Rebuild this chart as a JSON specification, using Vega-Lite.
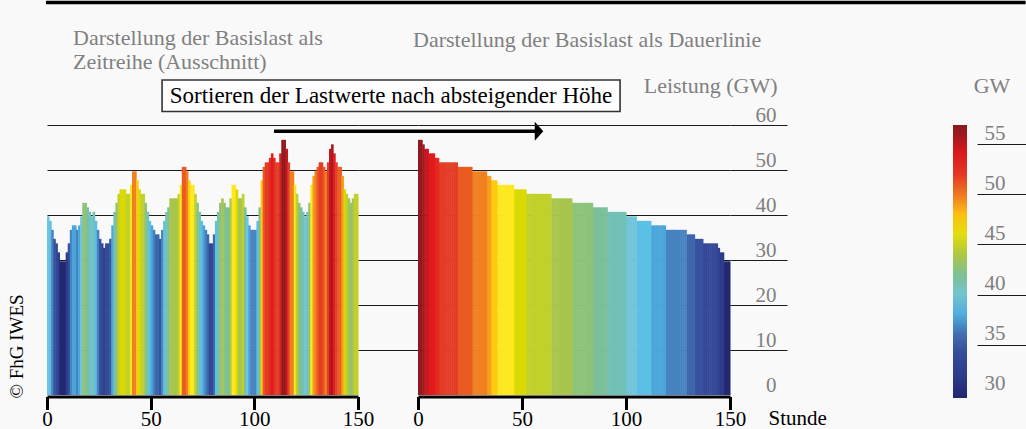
{
  "$schema": "https://vega.github.io/schema/vega-lite/v6.json",
  "background": "#f9f9f9",
  "padding": {"left": 7, "top": 0, "right": 0, "bottom": 0},
  "autosize": {"type": "pad"},
  "config": {
    "view": {"stroke": null},
    "font": "Liberation Serif",
    "axis": {"labelFont": "Liberation Serif", "titleFont": "Liberation Serif", "titleFontWeight": "normal"},
    "text": {"font": "Liberation Serif"}
  },
  "datasets": {
    "last": [
      {"stunde":0,"gw":39.7},{"stunde":1,"gw":38.7},{"stunde":2,"gw":36.7},{"stunde":3,"gw":34.7},{"stunde":4,"gw":33.7},
      {"stunde":5,"gw":31.7},{"stunde":6,"gw":29.7},{"stunde":7,"gw":29.7},{"stunde":8,"gw":29.7},{"stunde":9,"gw":31.7},
      {"stunde":10,"gw":33.7},{"stunde":11,"gw":36.7},{"stunde":12,"gw":37.7},{"stunde":13,"gw":37.7},{"stunde":14,"gw":36.7},
      {"stunde":15,"gw":37.7},{"stunde":16,"gw":39.7},{"stunde":17,"gw":42.7},{"stunde":18,"gw":42.7},{"stunde":19,"gw":41.7},
      {"stunde":20,"gw":40.7},{"stunde":21,"gw":39.7},{"stunde":22,"gw":40.7},{"stunde":23,"gw":38.7},{"stunde":24,"gw":36.7},
      {"stunde":25,"gw":34.7},{"stunde":26,"gw":33.7},{"stunde":27,"gw":32.7},{"stunde":28,"gw":33.7},{"stunde":29,"gw":33.7},
      {"stunde":30,"gw":34.7},{"stunde":31,"gw":37.7},{"stunde":32,"gw":40.7},{"stunde":33,"gw":42.7},{"stunde":34,"gw":44.7},
      {"stunde":35,"gw":45.7},{"stunde":36,"gw":45.7},{"stunde":37,"gw":45.7},{"stunde":38,"gw":44.7},{"stunde":39,"gw":44.7},
      {"stunde":40,"gw":46.7},{"stunde":41,"gw":49.7},{"stunde":42,"gw":49.7},{"stunde":43,"gw":47.7},{"stunde":44,"gw":45.7},
      {"stunde":45,"gw":44.7},{"stunde":46,"gw":44.7},{"stunde":47,"gw":42.7},{"stunde":48,"gw":40.7},{"stunde":49,"gw":38.7},
      {"stunde":50,"gw":37.7},{"stunde":51,"gw":36.7},{"stunde":52,"gw":35.7},{"stunde":53,"gw":35.7},{"stunde":54,"gw":34.7},
      {"stunde":55,"gw":36.7},{"stunde":56,"gw":38.7},{"stunde":57,"gw":40.7},{"stunde":58,"gw":41.7},{"stunde":59,"gw":43.7},
      {"stunde":60,"gw":43.7},{"stunde":61,"gw":43.7},{"stunde":62,"gw":43.7},{"stunde":63,"gw":44.7},{"stunde":64,"gw":46.7},
      {"stunde":65,"gw":50.7},{"stunde":66,"gw":50.7},{"stunde":67,"gw":49.7},{"stunde":68,"gw":47.7},{"stunde":69,"gw":46.7},
      {"stunde":70,"gw":46.7},{"stunde":71,"gw":44.7},{"stunde":72,"gw":42.7},{"stunde":73,"gw":40.7},{"stunde":74,"gw":38.7},
      {"stunde":75,"gw":37.7},{"stunde":76,"gw":36.7},{"stunde":77,"gw":35.7},{"stunde":78,"gw":33.7},{"stunde":79,"gw":33.7},
      {"stunde":80,"gw":35.7},{"stunde":81,"gw":38.7},{"stunde":82,"gw":40.7},{"stunde":83,"gw":42.7},{"stunde":84,"gw":43.7},
      {"stunde":85,"gw":42.7},{"stunde":86,"gw":41.7},{"stunde":87,"gw":41.7},{"stunde":88,"gw":43.7},{"stunde":89,"gw":46.7},
      {"stunde":90,"gw":46.7},{"stunde":91,"gw":45.7},{"stunde":92,"gw":43.7},{"stunde":93,"gw":43.7},{"stunde":94,"gw":44.7},
      {"stunde":95,"gw":41.7},{"stunde":96,"gw":39.7},{"stunde":97,"gw":37.7},{"stunde":98,"gw":36.7},{"stunde":99,"gw":36.7},
      {"stunde":100,"gw":36.7},{"stunde":101,"gw":38.7},{"stunde":102,"gw":41.7},{"stunde":103,"gw":47.7},{"stunde":104,"gw":50.7},
      {"stunde":105,"gw":51.7},{"stunde":106,"gw":51.7},{"stunde":107,"gw":52.7},{"stunde":108,"gw":53.7},{"stunde":109,"gw":52.7},
      {"stunde":110,"gw":51.7},{"stunde":111,"gw":51.7},{"stunde":112,"gw":53.7},{"stunde":113,"gw":56.7},{"stunde":114,"gw":56.7},
      {"stunde":115,"gw":54.7},{"stunde":116,"gw":51.7},{"stunde":117,"gw":49.7},{"stunde":118,"gw":49.7},{"stunde":119,"gw":46.7},
      {"stunde":120,"gw":44.7},{"stunde":121,"gw":42.7},{"stunde":122,"gw":41.7},{"stunde":123,"gw":40.7},{"stunde":124,"gw":39.7},
      {"stunde":125,"gw":40.7},{"stunde":126,"gw":42.7},{"stunde":127,"gw":46.7},{"stunde":128,"gw":48.7},{"stunde":129,"gw":49.7},
      {"stunde":130,"gw":50.7},{"stunde":131,"gw":51.7},{"stunde":132,"gw":51.7},{"stunde":133,"gw":50.7},{"stunde":134,"gw":49.7},
      {"stunde":135,"gw":51.7},{"stunde":136,"gw":54.7},{"stunde":137,"gw":55.7},{"stunde":138,"gw":53.7},{"stunde":139,"gw":51.7},
      {"stunde":140,"gw":50.7},{"stunde":141,"gw":50.7},{"stunde":142,"gw":48.7},{"stunde":143,"gw":45.7},{"stunde":144,"gw":44.7},
      {"stunde":145,"gw":43.7},{"stunde":146,"gw":42.7},{"stunde":147,"gw":43.7},{"stunde":148,"gw":44.7},{"stunde":149,"gw":44.7}
    ]
  },
  "data": {"name": "last"},
  "bounds": "flush",
  "spacing": 60,
  "resolve": {"scale": {"x": "independent", "y": "independent", "color": "shared"}},
  "hconcat": [
    {
      "width": 311,
      "height": 270,
      "title": {
        "text": ["Darstellung der Basislast als", "Zeitreihe (Ausschnitt)"],
        "anchor": "start", "frame": "group", "dx": 26, "offset": -73.4,
        "font": "Liberation Serif", "fontSize": 22, "fontWeight": "normal",
        "color": "#808080", "lineHeight": 24
      },
      "layer": [
        {
          "data": {"values": [{}]},
          "mark": {"type": "rect", "color": "black"},
          "encoding": {
            "x": {"datum": -0.5, "type": "quantitative", "scale": {"domain": [0, 150], "nice": false, "padding": 0}},
            "x2": {"datum": 472},
            "y": {"datum": 87.62, "type": "quantitative", "scale": {"domain": [0, 60], "nice": false, "padding": 0}},
            "y2": {"datum": 86.84}
          }
        },
        {
          "mark": {"type": "bar", "orient": "vertical", "width": 2.6, "xOffset": 1.3},
          "encoding": {
            "x": {
              "field": "stunde", "type": "quantitative",
              "scale": {"domain": [0, 150], "nice": false, "padding": 0},
              "axis": {
                "orient": "bottom", "values": [0, 50, 100, 150], "title": null, "grid": false,
                "offset": 1.5, "domainColor": "black", "domainWidth": 3,
                "tickColor": "black", "tickWidth": 3, "tickSize": 13,
                "labelFontSize": 21, "labelColor": "black", "labelPadding": -1,
                "labelFlush": false, "labelOverlap": false
              }
            },
            "y": {
              "field": "gw", "type": "quantitative",
              "scale": {"domain": [0, 60], "nice": false, "padding": 0},
              "axis": {
                "orient": "right", "values": [0, 10, 20, 30, 40, 50, 60],
                "grid": true,
                "gridColor": {"condition": {"test": "datum.value === 0", "value": "transparent"}, "value": "#1a1a1a"},
                "gridWidth": 1.2,
                "ticks": true, "tickSize": 60, "tickWidth": 1.2,
                "tickColor": {"condition": {"test": "datum.value === 0", "value": "transparent"}, "value": "#1a1a1a"},
                "labels": false, "domain": false,
                "title": "© FhG IWES", "titleAngle": 270, "titleX": -342, "titleY": 273,
                "titleAlign": "left", "titleBaseline": "middle",
                "titleFontSize": 19, "titleColor": "black", "titleFontWeight": "normal"
              }
            },
            "order": {"field": "stunde", "type": "quantitative", "sort": "ascending"},
            "color": {
              "field": "gw", "type": "quantitative",
              "scale": {
                "domain": [29.6,30.7,31.7,32.7,33.7,34.7,35.7,36.7,37.7,38.7,39.7,40.7,41.7,42.7,43.7,44.7,45.7,46.7,47.7,48.7,49.7,50.7,51.7,52.7,53.7,54.7,55.7,56.9],
                "range": ["#222670","#283180","#2d3b8c","#30418f","#334896","#37529f","#3d66ab","#4783c0","#4aa6da","#5bc0e5","#71c5da","#72c1b6","#79bf99","#8dc379","#a8c54c","#c1d02b","#dbd902","#fce81f","#fecb0f","#f5a01a","#f0801f","#ea5b22","#e43c26","#e32a20","#e31a1c","#c8141e","#a8161f","#851a1d"],
                "interpolate": "rgb"
              },
              "legend": {
                "orient": "none", "legendX": 906, "legendY": 0, "direction": "vertical",
                "title": null, "gradientLength": 273, "gradientThickness": 14,
                "gradientStrokeWidth": 0, "labelOpacity": 0, "padding": 0
              }
            }
          }
        },
        {
          "data": {"values": [{}]},
          "mark": {"type": "rect", "fill": "#fdfdfd", "stroke": "#333333", "strokeWidth": 1.6},
          "encoding": {
            "x": {"datum": 55.5, "type": "quantitative", "scale": {"domain": [0, 150], "nice": false, "padding": 0}},
            "x2": {"datum": 276.4},
            "y": {"datum": 70.0, "type": "quantitative", "scale": {"domain": [0, 60], "nice": false, "padding": 0}},
            "y2": {"datum": 63.0}
          }
        },
        {
          "data": {"values": [{}]},
          "mark": {"type": "text", "text": "Sortieren der Lastwerte nach absteigender Höhe", "font": "Liberation Serif", "fontSize": 23, "color": "black", "align": "center", "baseline": "middle"},
          "encoding": {
            "x": {"datum": 165.9, "type": "quantitative", "scale": {"domain": [0, 150], "nice": false, "padding": 0}},
            "y": {"datum": 66.4, "type": "quantitative", "scale": {"domain": [0, 60], "nice": false, "padding": 0}}
          }
        },
        {
          "data": {"values": [{}]},
          "mark": {"type": "rule", "color": "black", "strokeWidth": 3.5},
          "encoding": {
            "x": {"datum": 109.5, "type": "quantitative", "scale": {"domain": [0, 150], "nice": false, "padding": 0}},
            "x2": {"datum": 235.4},
            "y": {"datum": 58.62, "type": "quantitative", "scale": {"domain": [0, 60], "nice": false, "padding": 0}}
          }
        },
        {
          "data": {"values": [{}]},
          "mark": {"type": "point", "shape": "M -0.45,-1 L 0.45,0 L -0.45,1 Z", "filled": true, "color": "black", "opacity": 1, "size": 361},
          "encoding": {
            "x": {"datum": 237.3, "type": "quantitative", "scale": {"domain": [0, 150], "nice": false, "padding": 0}},
            "y": {"datum": 58.62, "type": "quantitative", "scale": {"domain": [0, 60], "nice": false, "padding": 0}}
          }
        }
      ]
    },
    {
      "width": 312,
      "height": 270,
      "title": {
        "text": "Darstellung der Basislast als Dauerlinie",
        "anchor": "start", "frame": "group", "dx": -5, "offset": 21.6,
        "font": "Liberation Serif", "fontSize": 22, "fontWeight": "normal",
        "color": "#808080"
      },
      "transform": [
        {
          "window": [{"op": "row_number", "as": "rang"}],
          "sort": [{"field": "gw", "order": "descending"}]
        }
      ],
      "mark": {"type": "bar", "orient": "vertical", "width": 2.6, "xOffset": -0.78},
      "encoding": {
        "x": {
          "field": "rang", "type": "quantitative",
          "scale": {"domain": [0, 150], "nice": false, "padding": 0},
          "axis": {
            "orient": "bottom", "values": [0, 50, 100, 150], "grid": false,
            "offset": 1.5, "domainColor": "black", "domainWidth": 3,
            "tickColor": "black", "tickWidth": 3, "tickSize": 13,
            "labelFontSize": 21, "labelColor": "black", "labelPadding": -1,
            "labelFlush": false, "labelOverlap": false,
            "title": "Stunde", "titleX": 350, "titleY": 28, "titleAlign": "left",
            "titleBaseline": "alphabetic", "titleFontSize": 21, "titleColor": "black", "titleFontWeight": "normal"
          }
        },
        "y": {
          "field": "gw", "type": "quantitative",
          "scale": {"domain": [0, 60], "nice": false, "padding": 0},
          "axis": {
            "orient": "right", "values": [0, 10, 20, 30, 40, 50, 60],
            "grid": true,
            "gridColor": {"condition": {"test": "datum.value === 0", "value": "transparent"}, "value": "#1a1a1a"},
            "gridWidth": 1.2,
            "ticks": true, "tickSize": 57, "tickWidth": 1.2,
            "tickColor": {"condition": {"test": "datum.value === 0", "value": "transparent"}, "value": "#1a1a1a"},
            "domain": false,
            "labelAlign": "right", "labelPadding": -11, "labelBaseline": "alphabetic", "labelOffset": -4,
            "labelColor": "#808080", "labelFontSize": 21,
            "title": "Leistung (GW)", "titleAngle": 0, "titleAlign": "right", "titleBaseline": "alphabetic",
            "titleX": 47, "titleY": -33, "titleColor": "#808080", "titleFontSize": 22, "titleFontWeight": "normal"
          }
        },
        "order": {"field": "rang", "type": "quantitative", "sort": "ascending"},
        "color": {
          "field": "gw", "type": "quantitative",
          "scale": {
            "domain": [29.6,30.7,31.7,32.7,33.7,34.7,35.7,36.7,37.7,38.7,39.7,40.7,41.7,42.7,43.7,44.7,45.7,46.7,47.7,48.7,49.7,50.7,51.7,52.7,53.7,54.7,55.7,56.9],
            "range": ["#222670","#283180","#2d3b8c","#30418f","#334896","#37529f","#3d66ab","#4783c0","#4aa6da","#5bc0e5","#71c5da","#72c1b6","#79bf99","#8dc379","#a8c54c","#c1d02b","#dbd902","#fce81f","#fecb0f","#f5a01a","#f0801f","#ea5b22","#e43c26","#e32a20","#e31a1c","#c8141e","#a8161f","#851a1d"],
            "interpolate": "rgb"
          },
          "legend": {
            "orient": "none", "legendX": 906, "legendY": 0, "direction": "vertical",
            "title": null, "gradientLength": 273, "gradientThickness": 14,
            "gradientStrokeWidth": 0, "labelOpacity": 0, "padding": 0
          }
        }
      }
    },
    {
      "width": 236,
      "height": 274,
      "data": {"values": [{}]},
      "mark": {"type": "point", "opacity": 0},
      "encoding": {
        "y": {
          "datum": 40, "type": "quantitative",
          "scale": {"domain": [29.6, 56.9], "nice": false, "zero": false},
          "axis": {
            "orient": "right", "values": [30, 35, 40, 45, 50, 55], "grid": false, "domain": false,
            "ticks": true, "tickSize": -49, "tickWidth": 1.2,
            "tickColor": {"condition": {"test": "datum.value === 30", "value": "transparent"}, "value": "#1a1a1a"},
            "labelAlign": "left", "labelPadding": 7, "labelBaseline": "alphabetic", "labelOffset": -5,
            "labelColor": "#808080", "labelFontSize": 21,
            "title": "GW", "titleAngle": 0, "titleAlign": "center", "titleBaseline": "alphabetic",
            "titleX": -34.5, "titleY": -33, "titleColor": "#808080", "titleFontSize": 22, "titleFontWeight": "normal"
          }
        }
      }
    }
  ]
}
